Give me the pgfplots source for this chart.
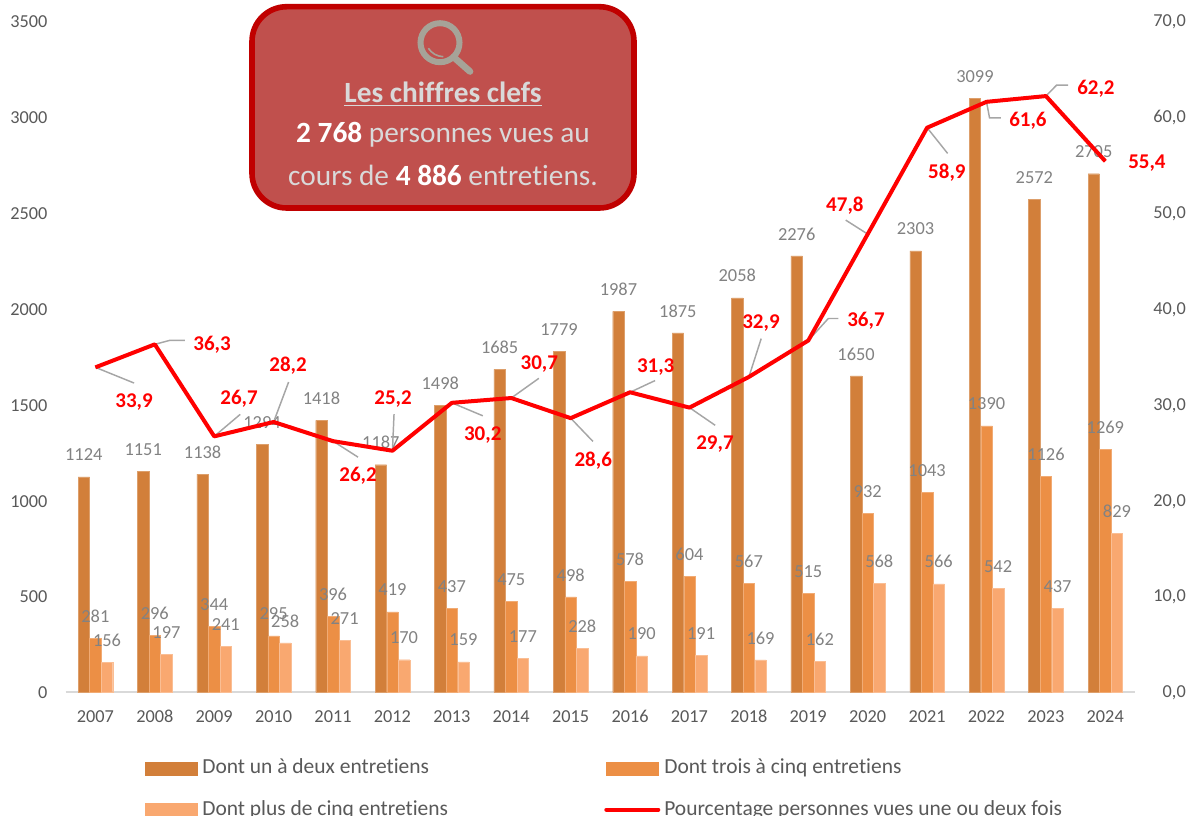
\documentclass[border=0pt]{standalone}
\usepackage{fontspec}
\setmainfont[Ligatures=NoCommon]{Carlito}
\usepackage{pgfplots}
\usepackage{pgfplotstable}
\pgfplotsset{compat=1.18}
\definecolor{barA}{HTML}{D27F3A}
\definecolor{barB}{HTML}{EC8F45}
\definecolor{barC}{HTML}{F9A870}
\definecolor{greylab}{HTML}{828282}
\definecolor{ticklab}{HTML}{595959}
\definecolor{axisline}{HTML}{D9D9D9}
\definecolor{leadcol}{HTML}{A6A6A6}
\definecolor{boxfill}{HTML}{C0504D}
\definecolor{boxline}{HTML}{C00000}
\definecolor{lens}{HTML}{A6A398}
\newcommand{\fs}[1]{\fontsize{#1}{#1}\selectfont}
\pgfplotstableread{
x a b c
2007 1124 281 156
2008 1151 296 197
2009 1138 344 241
2010 1294 295 258
2011 1418 396 271
2012 1187 419 170
2013 1498 437 159
2014 1685 475 177
2015 1779 498 228
2016 1987 578 190
2017 1875 604 191
2018 2058 567 169
2019 2276 515 162
2020 1650 932 568
2021 2303 1043 566
2022 3099 1390 542
2023 2572 1126 437
2024 2705 1269 829
}\bars
\newcommand{\lead}[3]{\draw[leadcol,line width=1.1pt] (axis cs:#1,#2) #3;}
\newcommand{\rel}[2]{-- ++(#1*0.75pt,#2*0.75pt)}
\pgfplotsset{
  common/.style={
    scale only axis,width=802pt,height=503.25pt,
    xmin=2006.5,xmax=2024.5,
    clip=false,
    major tick length=0pt,
    tick label style={font=\fs{13.7},text=ticklab},
    /pgf/number format/assume math mode=true,
  },
  barplot/.style={
    ybar,bar width=8.6pt,bar shift=#1,
    nodes near coords,
    every node near coord/.append style={anchor=center,xshift=#1,yshift=16.5pt,font=\fs{13.8},text=greylab,inner sep=0pt},
    point meta=y,
  },
}
\begin{document}
\begin{tikzpicture}[x=0.75pt,y=-0.75pt]
\useasboundingbox (0,0) rectangle (1195,816);
\coordinate (A) at (65.7,692.3);
\begin{axis}[common,at={(A)},anchor=south west,
  ymin=0,ymax=3500,
  ytick={0,500,...,3500},
  xtick={2007,...,2024},
  /pgf/number format/1000 sep={},
  /pgf/number format/fixed,
  /pgf/number format/precision=0,
  axis x line*=bottom,axis y line*=left,
  axis line style={-},
  y axis line style={draw=none},
  x axis line style={draw=axisline,line width=1.4pt},
  yticklabel style={anchor=east,inner sep=0pt,xshift=-13.5pt,yshift=-0.5pt},
  xticklabel style={inner sep=0pt,text height=9pt,text depth=0pt,yshift=-13.5pt},
  legend columns=2,
  legend cell align=left,
  legend style={at={(0.074,-0.0975)},anchor=north west,draw=none,fill=none,
    font=\fs{16.1},text=ticklab,inner sep=0pt,row sep=15.5pt,
    nodes={inner sep=0pt,text height=12pt,text depth=3.5pt}},
]
\addplot[barplot=-8.7pt,fill=barA,draw=barA!75!white,line width=0.3pt,forget plot] table[x=x,y=a] {\bars};
\addplot[barplot=0pt,fill=barB,draw=barB!75!white,line width=0.3pt,forget plot] table[x=x,y=b] {\bars};
\addplot[barplot=8.7pt,fill=barC,draw=barC!75!white,line width=0.3pt,forget plot] table[x=x,y=c] {\bars};
\addlegendimage{legend image code/.code={\fill[barA] (0pt,-4.9pt) rectangle (39pt,4.9pt);}}
\addlegendentry{\makebox[305pt][l]{\hspace{3.5pt}Dont un à deux entretiens}}
\addlegendimage{legend image code/.code={\fill[barB] (0pt,-4.9pt) rectangle (39pt,4.9pt);}}
\addlegendentry{\hspace{3pt}Dont trois à cinq entretiens}
\addlegendimage{legend image code/.code={\fill[barC] (0pt,-4.9pt) rectangle (39pt,4.9pt);}}
\addlegendentry{\makebox[305pt][l]{\hspace{3.5pt}Dont plus de cinq entretiens}}
\addlegendimage{legend image code/.code={\draw[red,line width=3pt,line cap=round] (0pt,0pt) -- (39pt,0pt);}}
\addlegendentry{\hspace{3pt}Pourcentage personnes vues une ou deux fois}
\end{axis}
\begin{axis}[common,at={(A)},anchor=south west,
  ymin=0,ymax=70,
  ytick={0,10,...,70},
  axis x line=none,axis y line*=right,
  axis line style={-},
  y axis line style={draw=none},
  yticklabel style={anchor=east,inner sep=0pt,xshift=38.25pt,yshift=-0.5pt},
  /pgf/number format/fixed,
  /pgf/number format/fixed zerofill,
  /pgf/number format/precision=1,
  /pgf/number format/use comma,
]
\lead{2007}{33.9}{\rel{38.7}{-15.7}}
\lead{2008}{36.3}{\rel{15}{4}\rel{15}{0}}
\lead{2009}{26.7}{\rel{26}{22}}
\lead{2010}{28.2}{\rel{15}{40}}
\lead{2011}{26.2}{\rel{25}{-16}}
\lead{2012}{25.2}{\rel{1.6}{36.7}}
\lead{2013}{30.2}{\rel{31}{-13}}
\lead{2014}{30.7}{\rel{27.6}{19.7}}
\lead{2015}{28.6}{\rel{22.3}{-23.3}}
\lead{2016}{31.3}{\rel{25}{11.7}}
\lead{2017}{29.7}{\rel{25.7}{-17.7}}
\lead{2018}{32.9}{\rel{12.3}{38.3}}
\lead{2019}{36.7}{\rel{20}{22}\rel{10}{0}}
\lead{2020}{47.8}{\rel{-22}{14}}
\lead{2021}{58.9}{\rel{20.5}{-25.7}}
\lead{2022}{61.6}{\rel{3}{-16}\rel{11.4}{0}}
\lead{2023}{62.2}{\rel{10.7}{11}\rel{11.6}{0}}
\addplot[red,line width=3pt,line join=round,mark=none,
  visualization depends on={value \thisrow{dx} \as \dxv},
  visualization depends on={value \thisrow{dy} \as \dyv},
  nodes near coords,point meta=y,
  every node near coord/.append style={anchor=center,inner sep=0pt,
    font=\fs{15.75}\bfseries,text=red,xshift=0.75pt*\dxv,yshift=0.75pt*\dyv-1pt},
] table[x=x,y=v] {
x v dx dy
2007 33.9 38.7 -33
2008 36.3 57.3 1.3
2009 26.7 24.9 39.4
2010 28.2 14.4 58
2011 26.2 25 -33
2012 25.2 0.6 52.7
2013 30.2 30.9 -31
2014 30.7 28.1 35.3
2015 28.6 22.6 -41.3
2016 31.3 25.6 27
2017 29.7 25.5 -35.1
2018 32.9 12.1 55.3
2019 36.7 57.7 21.5
2020 47.8 -22.8 30
2021 58.9 19.8 -43.3
2022 61.6 41.4 -17.2
2023 62.2 50 9
2024 55.4 41.6 -1
};
\end{axis}
% key-figures box
\draw[boxline,fill=boxfill,line width=4.2pt,rounded corners=26pt] (252,6.7) rectangle (634,208);
\draw[lens,line width=4.5pt] (440,42.7) circle (19.5);
\draw[lens,line width=5pt,line cap=round] (453.5,57) -- (470,71.5);
\draw[lens,line width=1.2pt] (428.3,48.3) to[bend right=25] (443.3,56.7);
\node[anchor=center,inner sep=0pt,text=axisline,font=\fs{22}\bfseries] at (443,94) {\underline{Les chiffres clefs}};
\node[anchor=center,inner sep=0pt,text=axisline,font=\fs{22}] at (443,135) {\textcolor{white}{\bfseries 2 768} personnes vues au};
\node[anchor=center,inner sep=0pt,text=axisline,font=\fs{22}] at (443,175.5) {cours de \textcolor{white}{\bfseries 4 886} entretiens.};
\end{tikzpicture}
\end{document}
